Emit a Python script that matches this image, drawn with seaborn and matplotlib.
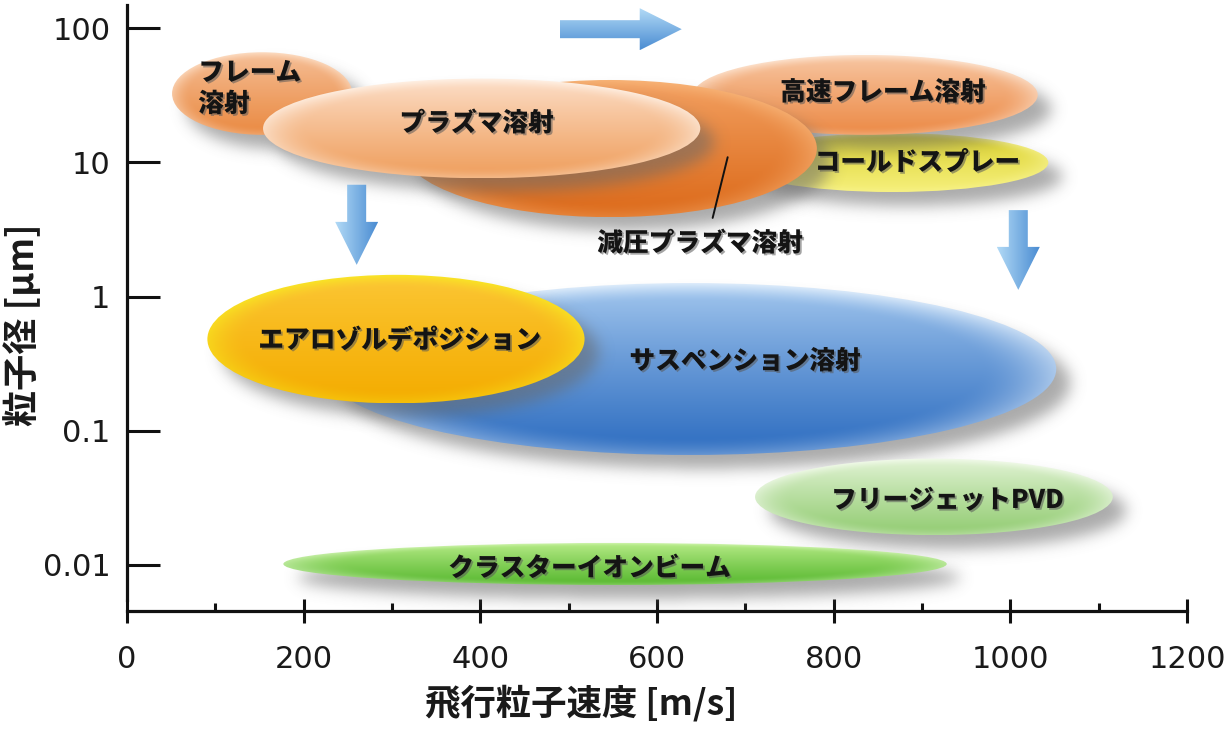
import numpy as np
import matplotlib
matplotlib.use("Agg")
import matplotlib.pyplot as plt
import seaborn as sns
from matplotlib.patches import Ellipse, FancyArrow
from matplotlib.colors import to_rgb
import matplotlib.patheffects as pe
from matplotlib.ticker import FixedLocator, FixedFormatter

# ---------------- data ----------------
methods = ["コールドスプレー", "高速フレーム溶射", "フレーム\n溶射", "減圧プラズマ溶射",
           "プラズマ溶射", "サスペンション溶射", "エアロゾルデポジション",
           "フリージェットPVD", "クラスターイオンビーム"]
# particle velocity range [m/s]
v_min = [690, 641, 51, 312, 154, 224, 91, 711, 177]
v_max = [1043, 1031, 255, 781, 649, 1052, 518, 1116, 928]
# particle diameter range [um]
d_min = [6.0, 16.0, 16.0, 3.9, 7.6, 0.066, 0.16, 0.0167, 0.0071]
d_max = [16.5, 63.0, 66.0, 41.0, 42.0, 1.26, 1.45, 0.062, 0.0146]
# label positions
label_v = [895, 856, 139, 649, 396, 700, 309, 929, 524]
label_d = [10.0, 33.3, 35.7, 2.5, 19.6, 0.331, 0.474, 0.0305, 0.0095]
# colours (top, bottom, rim)
col_top = ["#d8ce28", "#f8caa8", "#f6c29c", "#f4a466", "#fde2ce", "#a8cbf0", "#fcc838", "#e6f5da", "#bcee8c"]
col_bot = ["#f6f07c", "#ec8a46", "#ea8a42", "#dc6a1a", "#ef9e5c", "#2c6cc0", "#f4ac00", "#92cc72", "#58b830"]
col_rim = ["#f8f498", "#fde6d4", "#fde0c8", "#f8b67a", "#fff4ea", "#e4f0fc", "#f8ec20", "#f4fbee", "#dcf8c4"]

# leader line for 減圧プラズマ溶射
leader_v = [680, 663]
leader_d = [10.9, 3.85]

# arrows (start -> end)
arrow_v0 = [490, 260, 1009]
arrow_v1 = [628, 260, 1009]
arrow_d0 = [98.0, 6.8, 4.4]
arrow_d1 = [98.0, 1.72, 1.12]

x_ticks = [0, 200, 400, 600, 800, 1000, 1200]
x_minor = [100, 300, 500, 700, 900, 1100]
y_ticks = [0.01, 0.1, 1, 10, 100]
y_ticklabels = ["0.01", "0.1", "1", "10", "100"]

# ---------------- style ----------------
sns.set_theme(style="white")
plt.rcParams['font.family'] = ['Noto Sans CJK JP', 'DejaVu Sans']

W, H = 1232, 729
fig = plt.figure(figsize=(W / 100, H / 100), dpi=100)
ax_left, ax_right = 127, 1187
ax_top, ax_bot = 5, 611
ax = fig.add_axes([ax_left / W, 1 - ax_bot / H, (ax_right - ax_left) / W, (ax_bot - ax_top) / H])

XMIN, XMAX = 0, 1200
px_per_dec = 134.25
YMAX = 2 + (28 - ax_top) / px_per_dec
YMIN = 2 - (ax_bot - 28) / px_per_dec
ppx = (ax_right - ax_left) / (XMAX - XMIN)  # pixels per m/s


def gauss_blur(arr, sigma):
    rad = int(3 * sigma)
    k = np.exp(-0.5 * (np.arange(-rad, rad + 1) / sigma) ** 2)
    k /= k.sum()
    arr = np.apply_along_axis(lambda r: np.convolve(r, k, mode='same'), 1, arr)
    arr = np.apply_along_axis(lambda c: np.convolve(c, k, mode='same'), 0, arr)
    return arr


def draw_shadow(cx, cy, a, b, z):
    apx, bpx = a * ppx, b * px_per_dec
    off_x, off_y = 14, 14  # px
    sigma = 7.5
    pad = 4 * sigma
    mx, my = apx + pad, bpx + pad
    nx, ny = int(2 * mx), int(2 * my)
    xs = np.linspace(-mx, mx, nx)
    ys = np.linspace(my, -my, ny)
    X, Y = np.meshgrid(xs, ys)
    mask = (((X / apx) ** 2 + (Y / bpx) ** 2) <= 1).astype(float)
    alpha = 0.55 * gauss_blur(mask, sigma)
    img = np.zeros((ny, nx, 4))
    img[..., :3] = 0.40
    img[..., 3] = np.clip(alpha, 0, 1)
    scx = cx + off_x / ppx
    scy = cy - off_y / px_per_dec
    ax.imshow(img, extent=(scx - mx / ppx, scx + mx / ppx, scy - my / px_per_dec, scy + my / px_per_dec),
              origin='upper', aspect='auto', zorder=z, interpolation='bilinear')


def draw_body(cx, cy, a, b, top, bot, rim, z):
    ell = Ellipse((cx, cy), 2 * a, 2 * b, facecolor='none', edgecolor='none', zorder=z)
    ax.add_patch(ell)
    nx, ny = 400, 160
    xs = np.linspace(-1, 1, nx)
    ys = np.linspace(1, -1, ny)
    U, V = np.meshgrid(xs, ys)
    t = (1 - V) / 2
    t = t ** 0.85
    top, bot, rim = map(lambda c: np.array(to_rgb(c)), (top, bot, rim))
    base = top * (1 - t)[..., None] + bot * t[..., None]
    r = np.sqrt(U ** 2 + V ** 2)
    rw = np.clip((r - 0.80) / 0.20, 0, 1) ** 1.6 * (0.30 + 0.55 * (V + 1) / 2)
    img = base * (1 - rw[..., None]) + rim * rw[..., None]
    im = ax.imshow(img, extent=(cx - a, cx + a, cy - b, cy + b), origin='upper',
                   aspect='auto', zorder=z + 0.1, interpolation='bilinear')
    im.set_clip_path(ell)


z = 2
for i in range(len(methods)):
    lo, hi = np.log10(d_min[i]), np.log10(d_max[i])
    cx, cy = (v_min[i] + v_max[i]) / 2, (lo + hi) / 2
    a, b = (v_max[i] - v_min[i]) / 2, (hi - lo) / 2
    draw_shadow(cx, cy, a, b, z)
    draw_body(cx, cy, a, b, col_top[i], col_bot[i], col_rim[i], z + 0.5)
    z += 1

# arrows
for i in range(len(arrow_v0)):
    y0, y1 = np.log10(arrow_d0[i]), np.log10(arrow_d1[i])
    dxv, dyv = arrow_v1[i] - arrow_v0[i], y1 - y0
    horizontal = abs(dyv) < 1e-9
    if horizontal:
        w, hw, hl = 18 / px_per_dec, 42 / px_per_dec, 42 / ppx
    else:
        w, hw, hl = 19 / ppx, 43 / ppx, 43 / px_per_dec
    arr = FancyArrow(arrow_v0[i], y0, dxv, dyv, width=w, head_width=hw, head_length=hl,
                     length_includes_head=True, facecolor='none', edgecolor='none', zorder=z)
    ax.add_patch(arr)
    n = 100
    g = np.linspace(0, 1, n)
    c1, c2 = np.array(to_rgb("#b2daf6")), np.array(to_rgb("#4a8cd2"))
    G = np.tile(g[:, None], (1, n)) if horizontal else np.tile(g[None, :], (n, 1))
    img = c1 * (1 - G)[..., None] + c2 * G[..., None]
    if horizontal:
        ext = (min(arrow_v0[i], arrow_v1[i]), max(arrow_v0[i], arrow_v1[i]), y0 - hw / 2, y0 + hw / 2)
    else:
        ext = (arrow_v0[i] - hw / 2, arrow_v0[i] + hw / 2, min(y0, y1), max(y0, y1))
    im = ax.imshow(img, extent=ext, origin='upper', aspect='auto', zorder=z + 0.1,
                   interpolation='bilinear')
    im.set_clip_path(arr)

# labels
txt_fx = [pe.SimplePatchShadow(offset=(1.3, -1.3), shadow_rgbFace=(0.35, 0.35, 0.35), alpha=0.55),
          pe.Normal()]
for i, m in enumerate(methods):
    ax.text(label_v[i], np.log10(label_d[i]), m, ha='center', va='center',
            multialignment='left', linespacing=1.25,
            fontsize=18.5, fontweight='heavy', color='#141414',
            family=['Noto Sans CJK JP', 'DejaVu Sans'], zorder=50, path_effects=txt_fx)

ax.plot(leader_v, np.log10(leader_d), color='#111111', lw=1.4, zorder=49)

# axes
ax.set_xlim(XMIN, XMAX)
ax.set_ylim(YMIN, YMAX)
sns.despine(ax=ax)
for s in ['left', 'bottom']:
    ax.spines[s].set_linewidth(2.3)
    ax.spines[s].set_color('#111111')
ax.spines['left'].set_bounds(2 - (600 - 28) / px_per_dec, YMAX)

ax.xaxis.set_major_locator(FixedLocator(x_ticks))
ax.xaxis.set_minor_locator(FixedLocator(x_minor))
ax.yaxis.set_major_locator(FixedLocator(np.log10(y_ticks)))
ax.yaxis.set_major_formatter(FixedFormatter(y_ticklabels))
ax.tick_params(axis='x', which='major', direction='inout', length=17, width=2.2, color='#111111',
               pad=16, labelsize=22, labelcolor='#1a1a1a', bottom=True)
ax.tick_params(axis='x', which='minor', direction='in', length=6, width=2.2, color='#111111', bottom=True)
ax.tick_params(axis='y', which='major', direction='in', length=24, width=2.2, color='#111111',
               pad=12, labelsize=22, labelcolor='#1a1a1a', left=True)
for lab in ax.get_xticklabels() + ax.get_yticklabels():
    lab.set_family('DejaVu Sans')

ax.set_xlabel("飛行粒子速度 [m/s]", fontsize=25.5, fontweight='bold', color='#1a1a1a')
ax.xaxis.set_label_coords((581 - ax_left) / (ax_right - ax_left), -(703 - ax_bot) / (ax_bot - ax_top))
ax.xaxis.label.set_va('center')
ax.set_ylabel("粒子径 [μm]", fontsize=26, fontweight='bold', color='#1a1a1a')
ax.yaxis.set_label_coords(-(ax_left - 23) / (ax_right - ax_left), (ax_bot - 325) / (ax_bot - ax_top))
ax.yaxis.label.set_va('center')
ax.yaxis.label.set_ha('center')

ax.set_facecolor('white')
fig.patch.set_facecolor('white')
fig.savefig("out.png", dpi=100, facecolor='white')
